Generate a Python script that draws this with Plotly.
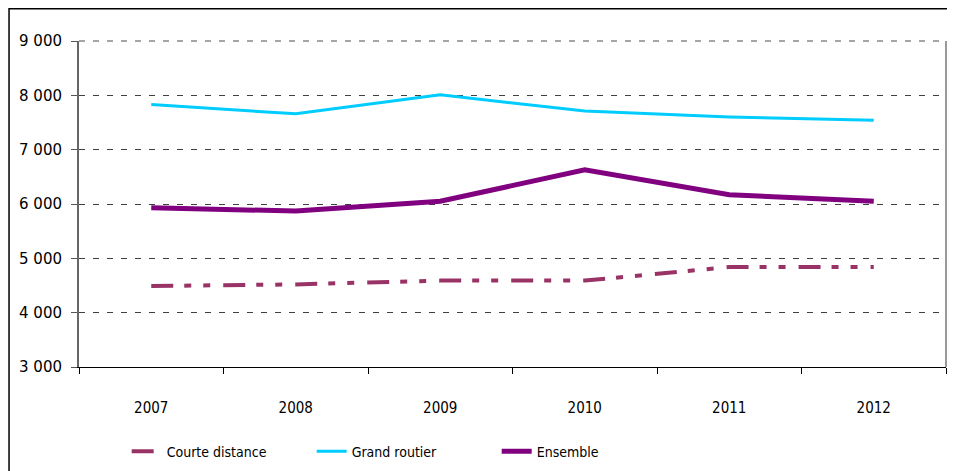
import plotly.graph_objects as go

years = ["2007", "2008", "2009", "2010", "2011", "2012"]
courte_distance = [4490, 4520, 4590, 4590, 4840, 4840]
grand_routier = [7830, 7660, 8010, 7710, 7600, 7540]
ensemble = [5930, 5870, 6050, 6630, 6170, 6050]
y_ticks = [3000, 4000, 5000, 6000, 7000, 8000, 9000]
y_tick_labels = ["3 000", "4 000", "5 000", "6 000", "7 000", "8 000", "9 000"]

narrow = "DejaVu Sans Condensed, Liberation Sans Narrow, sans-serif"

fig = go.Figure()
fig.add_trace(go.Scatter(x=years, y=courte_distance, mode="lines", name="Courte distance",
                         line=dict(color="#993366", width=4, dash="22px,11px,7px,12px,7px,13px")))
fig.add_trace(go.Scatter(x=years, y=grand_routier, mode="lines", name="Grand routier",
                         line=dict(color="#00CCFF", width=3)))
fig.add_trace(go.Scatter(x=years, y=ensemble, mode="lines", name="Ensemble",
                         line=dict(color="#800080", width=5)))

fig.update_layout(
    width=947, height=463,
    margin=dict(l=71, r=9, t=33, b=104, autoexpand=False),
    paper_bgcolor="white", plot_bgcolor="white",
    showlegend=True,
    legend=dict(orientation="h", x=0.055, y=-0.26, xanchor="left", yanchor="middle",
                font=dict(family=narrow, size=14, color="#000"),
                entrywidth=140, entrywidthmode="pixels",
                bgcolor="rgba(0,0,0,0)"),
    xaxis=dict(type="category", tickson="boundaries", ticks="outside", ticklen=6,
               tickcolor="#000", showline=True, linecolor="#000", linewidth=1,
               showgrid=False, range=[-0.5, 5.5], automargin=False,
               tickfont=dict(family=narrow, size=15, color="#000"),
               ),
    yaxis=dict(range=[3000, 9000], tickvals=y_ticks, ticktext=y_tick_labels,
               ticks="outside", ticklen=6, tickcolor="#555", showline=True,
               linecolor="#666", linewidth=2, zeroline=False, automargin=False,
               showgrid=True, gridcolor="#404040", gridwidth=1, griddash="6px,8px",
               tickfont=dict(family="DejaVu Sans, sans-serif", size=15, color="#000")),
    shapes=[
        dict(type="line", xref="paper", yref="paper", x0=0, x1=1, y0=1, y1=1,
             line=dict(color="#888", width=1.5, dash="6px,8px")),
        dict(type="line", xref="paper", yref="paper", x0=1, x1=1, y0=0, y1=1,
             line=dict(color="#999", width=2)),
        dict(type="rect", xref="paper", yref="paper", x0=-0.0807, x1=1.2, y0=-0.4, y1=1.099,
             line=dict(color="#000", width=1.5), fillcolor="rgba(0,0,0,0)", layer="below"),
    ],
)
fig.update_xaxes(ticklabelstandoff=27)
fig.update_yaxes(ticklabelstandoff=6)

fig.write_html("out.html")
